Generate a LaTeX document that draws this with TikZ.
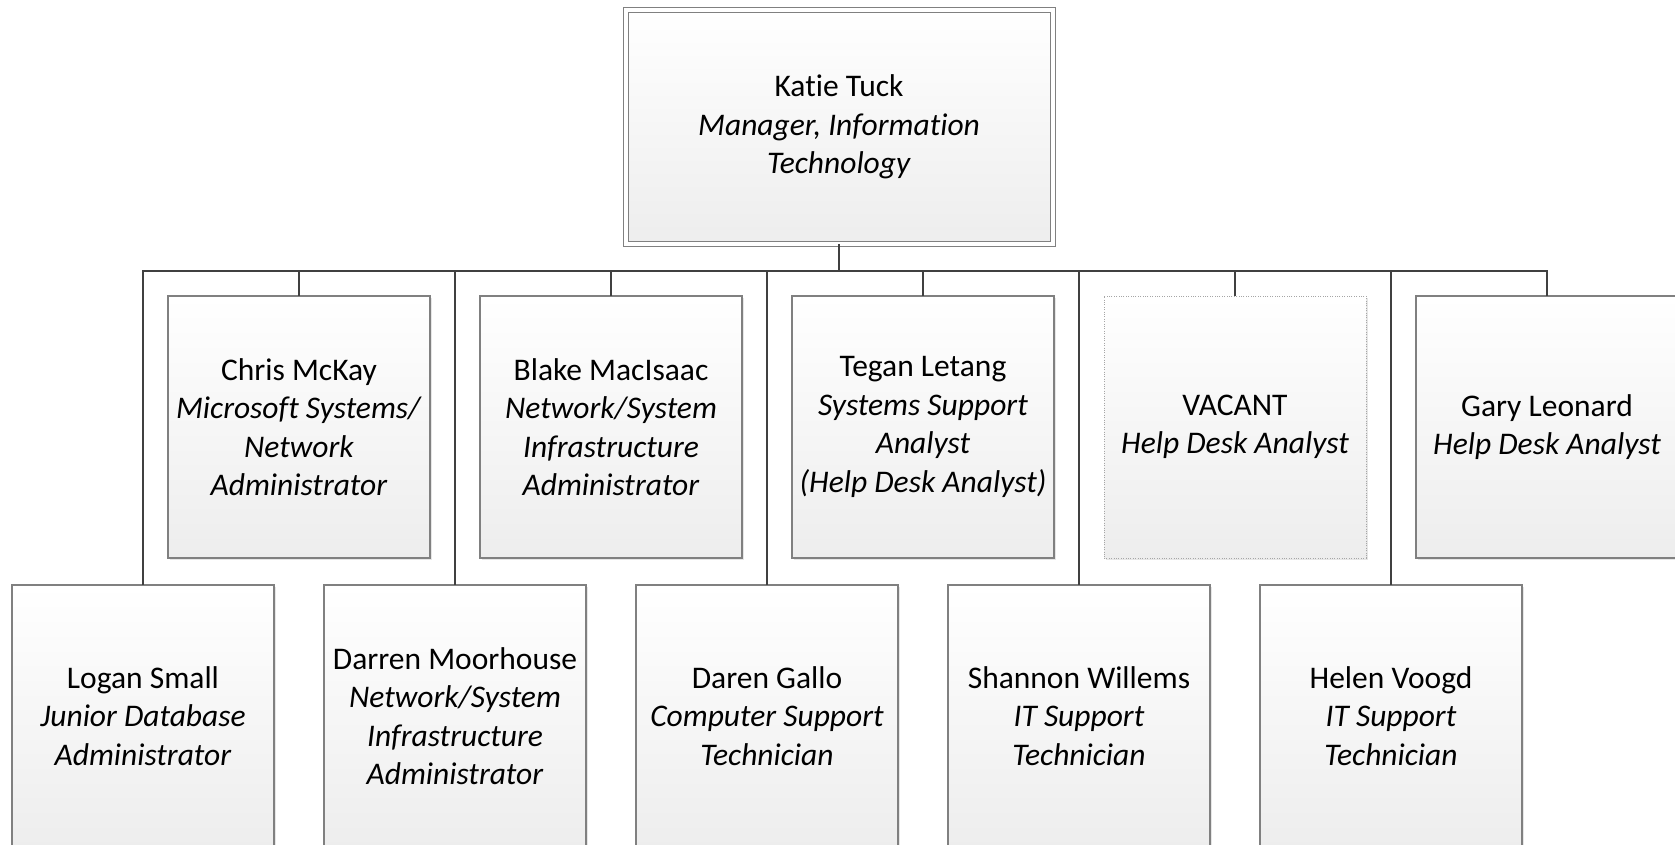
\documentclass[tikz,border=0pt]{standalone}
\usepackage{fontspec}
\setmainfont{Carlito}[Ligatures=NoCommon]
\usepackage{tikz}
\usetikzlibrary{positioning,shadows}

\begin{document}
\begin{tikzpicture}[x=0.5pt,y=-0.5pt,
    staff node/.style={rectangle, draw=black!50, line width=0.75pt,
      top color=white, bottom color=black!7,
      drop shadow={shadow xshift=1.2pt,shadow yshift=-1.2pt,fill=black!12,opacity=0.8},
      minimum width=131pt, minimum height=131pt, inner sep=0pt, outer sep=0pt,
      align=center, font=\fontsize{15.75}{19.25}\selectfont},
    head node/.style={staff node, line width=0.5pt, double, double distance=2pt,
      minimum width=213.5pt, minimum height=117pt},
    vacant node/.style={staff node, draw=black!35, line width=0.5pt,
      dash pattern=on 0.5pt off 0.7pt},
    link/.style={draw=black!75, line width=1.2pt}]

  \useasboundingbox (0,0) rectangle (1675,845);

  %Manager%
  \node[head node] (katie) at (839,127)
    {Katie Tuck\\ \textit{Manager, Information}\\ \textit{Technology}};
  \coordinate[below=13.5pt of katie] (bus);

  %Upper row%
  \node[staff node] (chris) at (299,427)
    {Chris McKay\\ \textit{Microsoft Systems/}\\ \textit{Network}\\ \textit{Administrator}};
  \node[staff node] (blake) [right=25pt of chris]
    {Blake MacIsaac\\ \textit{Network/System}\\ \textit{Infrastructure}\\ \textit{Administrator}};
  \node[staff node] (tegan) [right=25pt of blake]
    {Tegan Letang\\ \textit{Systems Support}\\ \textit{Analyst}\\ \textit{(Help Desk Analyst)}};
  \node[vacant node] (vacant) [right=25pt of tegan]
    {VACANT\\ \textit{Help Desk Analyst}};
  \node[staff node] (gary) [right=25pt of vacant]
    {Gary Leonard\\ \textit{Help Desk Analyst}};

  %Lower row%
  \node[staff node] (logan) [below=13.5pt of chris, xshift=-78pt]
    {Logan Small\\ \textit{Junior Database}\\ \textit{Administrator}};
  \node[staff node] (darren) [right=25pt of logan]
    {Darren Moorhouse\\ \textit{Network/System}\\ \textit{Infrastructure}\\ \textit{Administrator}};
  \node[staff node] (daren) [right=25pt of darren]
    {Daren Gallo\\ \textit{Computer Support}\\ \textit{Technician}};
  \node[staff node] (shannon) [right=25pt of daren]
    {Shannon Willems\\ \textit{IT Support}\\ \textit{Technician}};
  \node[staff node] (helen) [right=25pt of shannon]
    {Helen Voogd\\ \textit{IT Support}\\ \textit{Technician}};

  %Lines%
  \draw[link] (katie.south) -- (bus);
  \foreach \n in {chris,blake,tegan,vacant,gary,logan,darren,daren,shannon,helen}
    \draw[link] (bus) -| (\n.north);
\end{tikzpicture}
\end{document}
